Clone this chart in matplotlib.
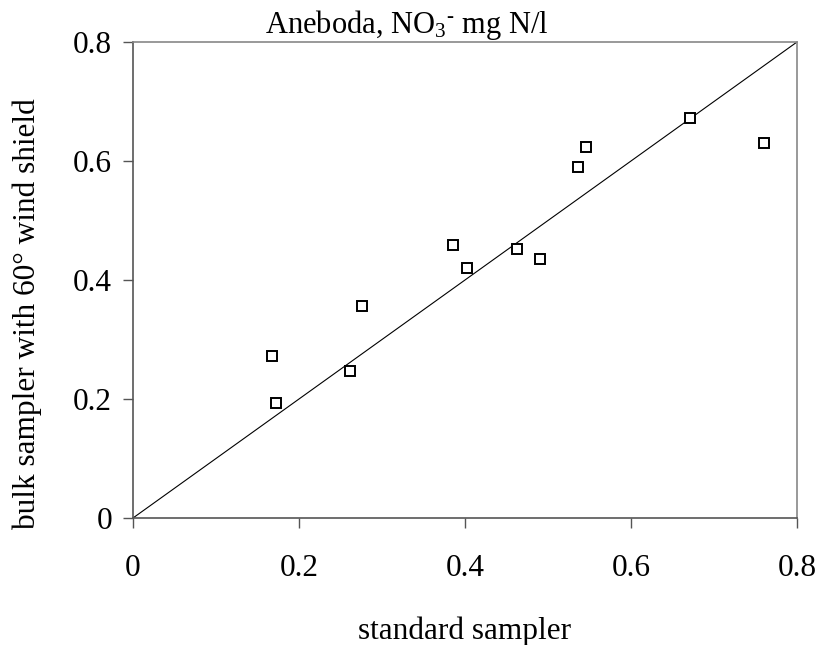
import matplotlib
matplotlib.use("Agg")
import matplotlib.pyplot as plt

plt.rcParams['font.family'] = ['Liberation Serif', 'DejaVu Serif']
plt.rcParams['mathtext.fontset'] = 'custom'
plt.rcParams['mathtext.rm'] = 'Liberation Serif'
plt.rcParams['mathtext.it'] = 'Liberation Serif:italic'

# values
standard = [0.167, 0.172, 0.261, 0.276, 0.386, 0.403, 0.463, 0.490, 0.536, 0.546, 0.671, 0.760]
shielded = [0.273, 0.193, 0.247, 0.357, 0.458, 0.421, 0.452, 0.435, 0.590, 0.624, 0.673, 0.630]
ticks = [0, 0.2, 0.4, 0.6, 0.8]
tick_labels = ['0', '0.2', '0.4', '0.6', '0.8']

fig = plt.figure(figsize=(8.18, 6.45), dpi=100)
ax = fig.add_axes([133 / 818, 1 - 518 / 645, 664 / 818, 476 / 645])

# 1:1 line
ax.plot([0, 0.8], [0, 0.8], color='black', lw=0.8)
ax.plot(standard, shielded, linestyle='none', marker='s', markersize=7.5,
        markerfacecolor='white', markeredgecolor='black', markeredgewidth=1.4)

ax.set_xlim(0, 0.8)
ax.set_ylim(0, 0.8)
ax.set_xticks(ticks)
ax.set_xticklabels(tick_labels)
ax.set_yticks(ticks)
ax.set_yticklabels(tick_labels)
ax.tick_params(direction='out', length=7, width=1, colors='#555555',
               labelcolor='black', labelsize=22.5, pad=8)
ax.tick_params(axis='x', pad=19)

for side in ['left', 'bottom']:
    ax.spines[side].set_color('#555555')
    ax.spines[side].set_linewidth(1.2)
for side in ['top', 'right']:
    ax.spines[side].set_color('#888888')
    ax.spines[side].set_linewidth(1.2)

ax.set_xlabel('standard sampler', fontsize=22.5, labelpad=24)
fig.text(27 / 818, 1 - 314 / 645, 'bulk sampler with 60\u00b0 wind shield',
         rotation=90, ha='center', va='center', fontsize=22.5)

fig.text(407 / 818, 1 - 33 / 645, 'Aneboda, NO$_3$$^{\u2010}$ mg N/l',
         ha='center', va='baseline', fontsize=22)

fig.savefig('out.png', dpi=100)
